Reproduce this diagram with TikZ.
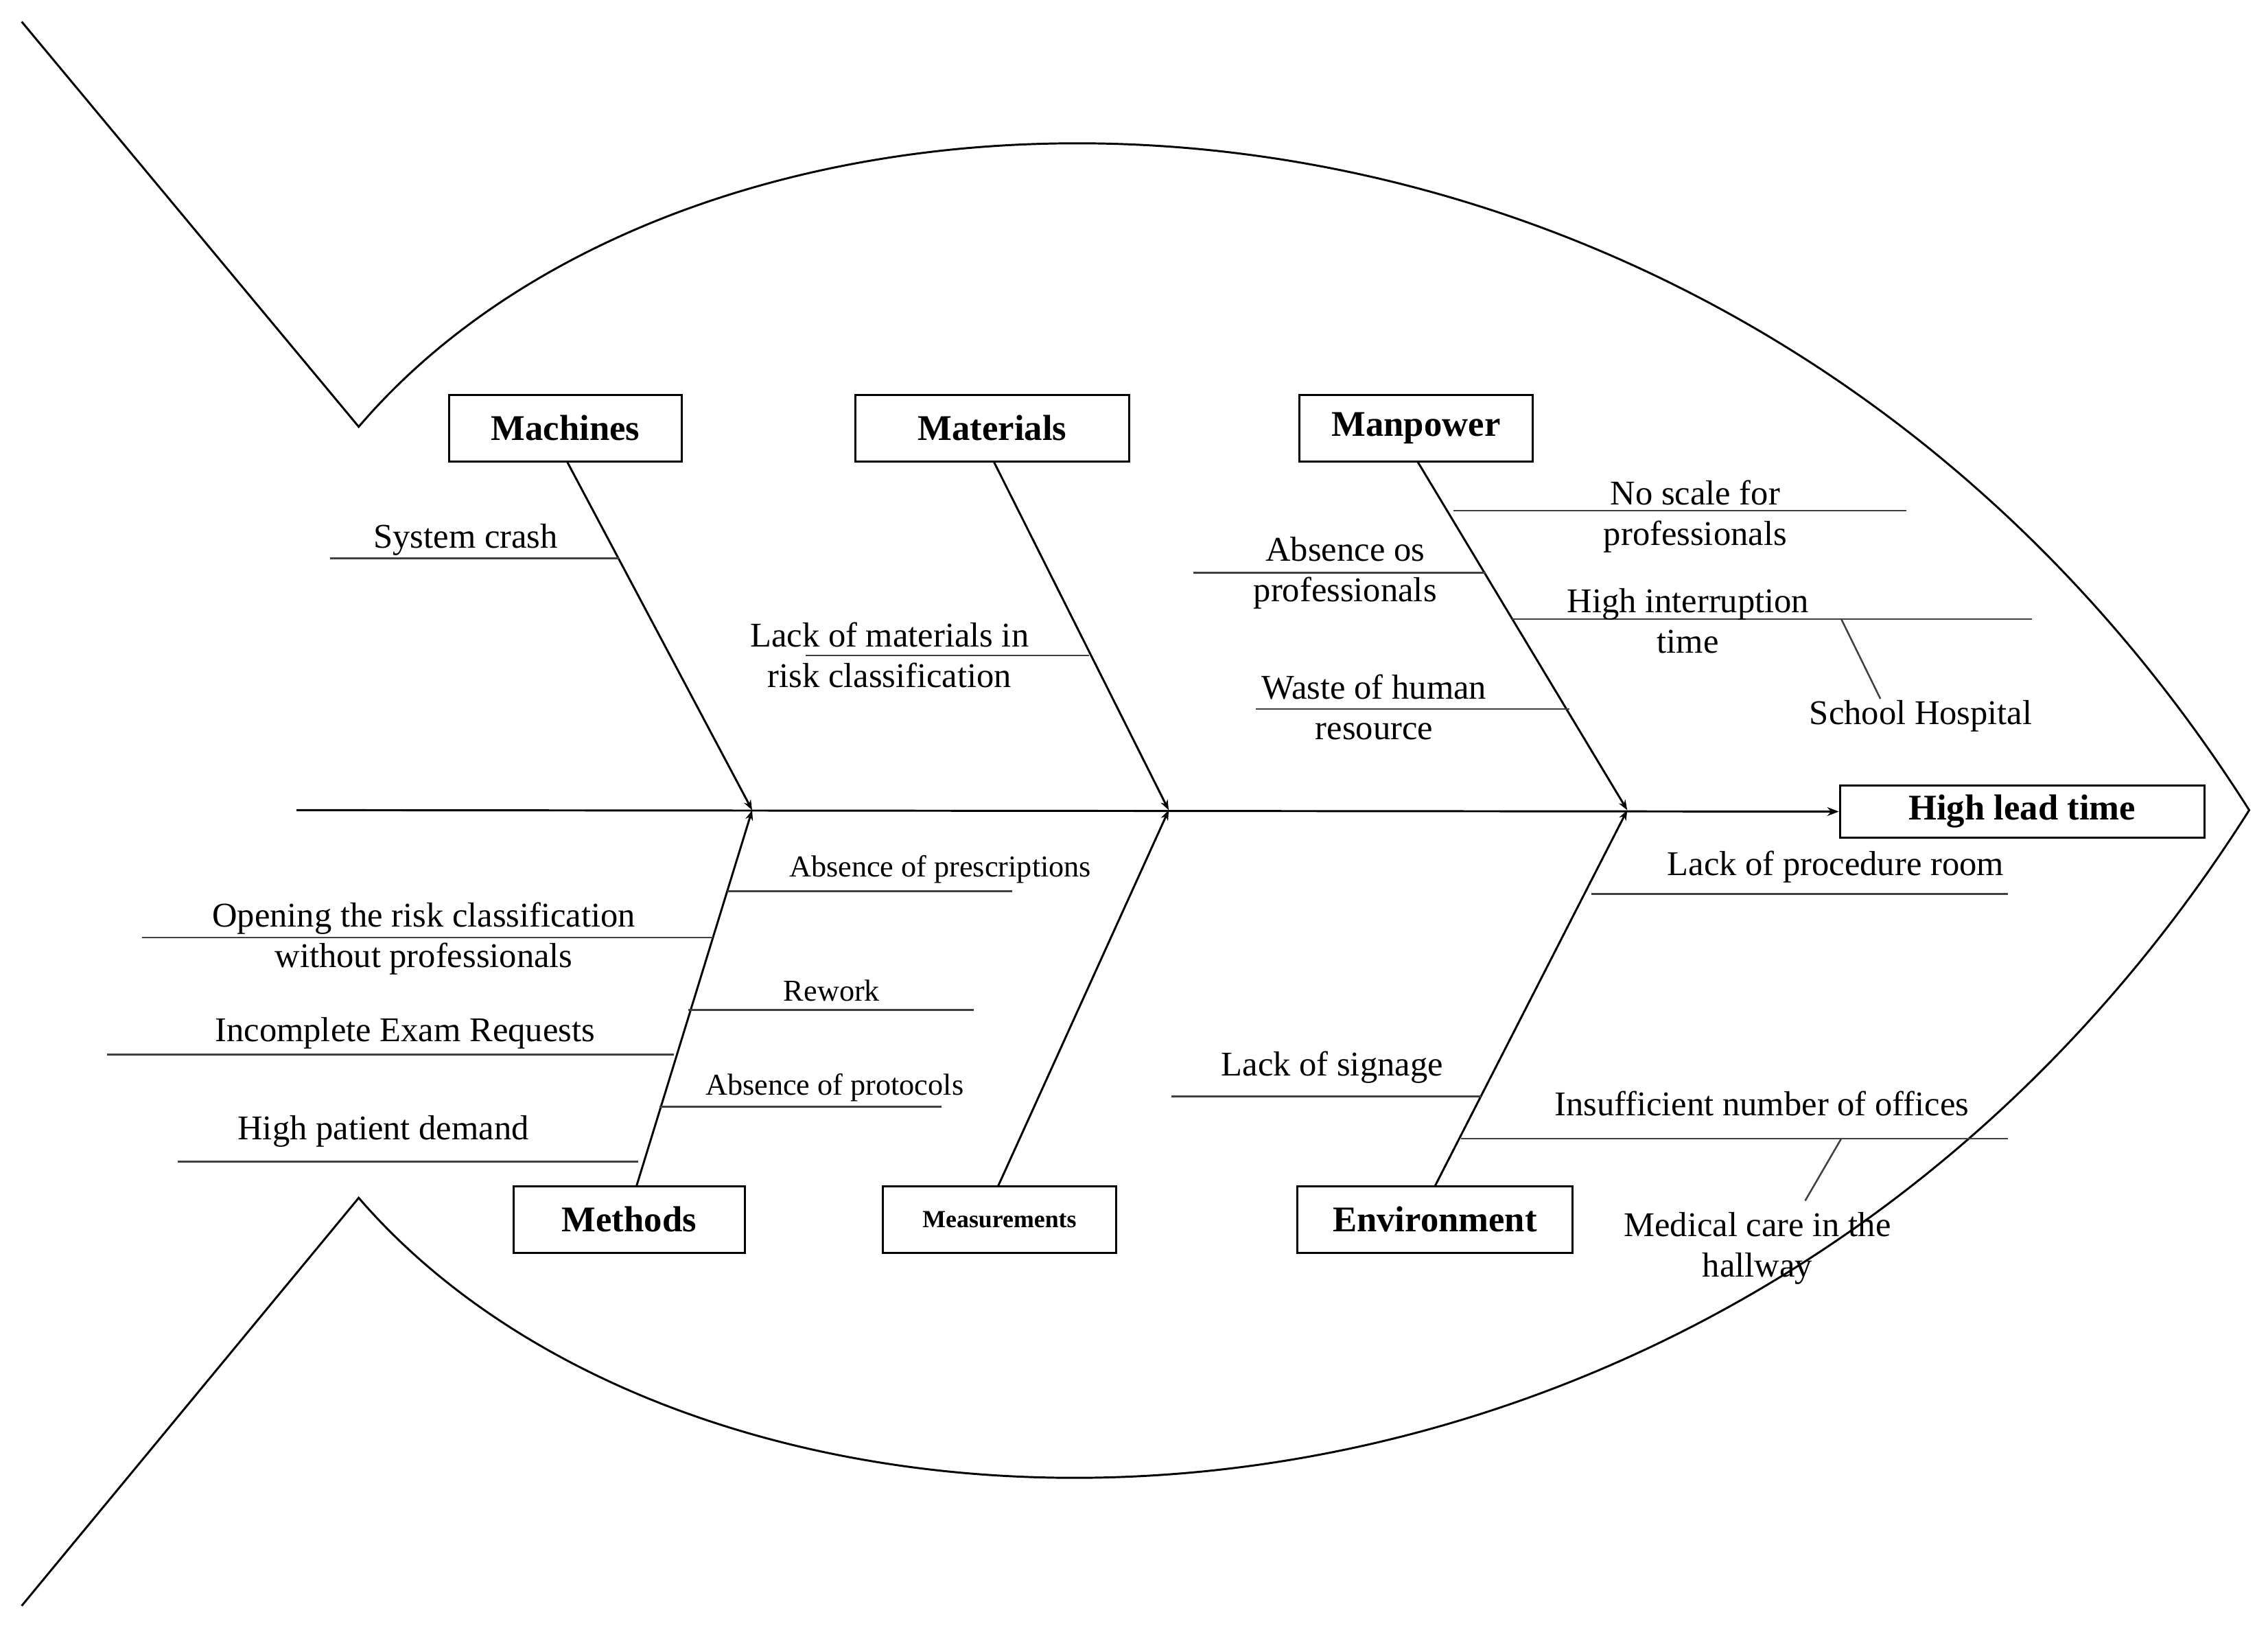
\documentclass[tikz,border=0pt]{standalone}
\usepackage{fontspec}
\setmainfont{Liberation Serif}
\usetikzlibrary{arrows.meta}
\begin{document}
\begin{tikzpicture}[x=1pt,y=-1pt,line width=1.4pt,
 box/.style={draw,font=\fontsize{25}{28}\selectfont\bfseries,inner sep=0pt},
 lab/.style={font=\fontsize{24}{28}\selectfont,align=center,inner sep=0pt},
 sub/.style={line width=1.2pt,draw=black!75}]
\useasboundingbox (0,0) rectangle (1568,1125);
% fish outline
\draw (15,15) -- (248,295) .. controls (500,0) and (1200,0) .. (1555,560)
  .. controls (1200,1120) and (500,1120) .. (248,828) -- (15,1110);
% head
\node[box,minimum width=252pt,minimum height=36pt] (head) at (1398,561) {High lead time};
\coordinate (tail) at (205,560);
\coordinate (j1) at (520,560);
\coordinate (j2) at (808,560);
\coordinate (j3) at (1125,560);
\draw[-{Stealth[length=8pt]}] (tail) -- (head.west);
% category boxes
\node[box,minimum width=161pt,minimum height=46pt] (mach) at (391,296) {Machines};
\node[box,minimum width=189pt,minimum height=46pt] (mat) at (686,296) {Materials};
\node[box,minimum width=161pt,minimum height=46pt] (man) at (979,296) {Manpower};
\node[box,minimum width=160pt,minimum height=46pt] (meth) at (435,843) {Methods};
\node[box,minimum width=161pt,minimum height=46pt,font=\fontsize{17}{20}\selectfont\bfseries] (meas) at (691,843) {Measurements};
\node[box,minimum width=190pt,minimum height=46pt] (env) at (992,843) {Environment};
\draw[-{Stealth[length=7pt]}] (392,319) -- (j1);
\draw[-{Stealth[length=7pt]}] (687,319) -- (j2);
\draw[-{Stealth[length=7pt]}] (980,319) -- (j3);
\draw[-{Stealth[length=7pt]}] (440,820) -- (j1);
\draw[-{Stealth[length=7pt]}] (690,820) -- (j2);
\draw[-{Stealth[length=7pt]}] (992,820) -- (j3);
% machines
\draw[sub] (228,386) -- (428,386);
\node[lab] (t1) at (322,373) {System crash};
% materials
\draw[sub] (557,453) -- (753,453);
\node[lab] (t2) at (615,453) {Lack of materials in\\risk classification};
% manpower
\draw[sub] (825,396) -- (1027,396);
\node[lab] (t3) at (930,396) {Absence os\\professionals};
\draw[sub] (868,490) -- (1085,490);
\node[lab] (t4) at (950,489) {Waste of human\\resource};
\draw[sub] (1005,353) -- (1318,353);
\node[lab] (t5) at (1172,357) {No scale for\\professionals};
\draw[sub] (1045,428) -- (1405,428);
\node[lab] (t6) at (1167,429) {High interruption\\time};
\coordinate (s1) at (1273,428);
\node[lab] (t7) at (1328,495) {School Hospital};
\draw[sub] (s1) -- (1300,483);
% methods
\draw[sub] (503,616) -- (700,616);
\node[lab,font=\fontsize{21}{24}\selectfont] (m1) at (650,601) {Absence of prescriptions};
\draw[sub] (98,648) -- (493,648);
\node[lab] (m2) at (293,649) {Opening the risk classification\\without professionals};
\draw[sub] (476,698) -- (673,698);
\node[lab,font=\fontsize{21}{24}\selectfont] (m3) at (575,685) {Rework};
\draw[sub] (74,729) -- (466,729);
\node[lab] (m4) at (280,714) {Incomplete Exam Requests};
\draw[sub] (456,765) -- (651,765);
\node[lab,font=\fontsize{21}{24}\selectfont] (m5) at (577,752) {Absence of protocols};
\draw[sub] (123,803) -- (441,803);
\node[lab] (m6) at (265,782) {High patient demand};
% environment
\draw[sub] (1100,618) -- (1388,618);
\node[lab] (e1) at (1269,599) {Lack of procedure room};
\draw[sub] (810,758) -- (1024,758);
\node[lab] (e2) at (921,738) {Lack of signage};
\draw[sub] (1010,787) -- (1388,787);
\node[lab] (e3) at (1218,763) {Insufficient number of offices};
\coordinate (s2) at (1273,787);
\node[lab] (e4) at (1215,863) {Medical care in the\\hallway};
\draw[sub] (s2) -- (1248,830);
\end{tikzpicture}
\end{document}
